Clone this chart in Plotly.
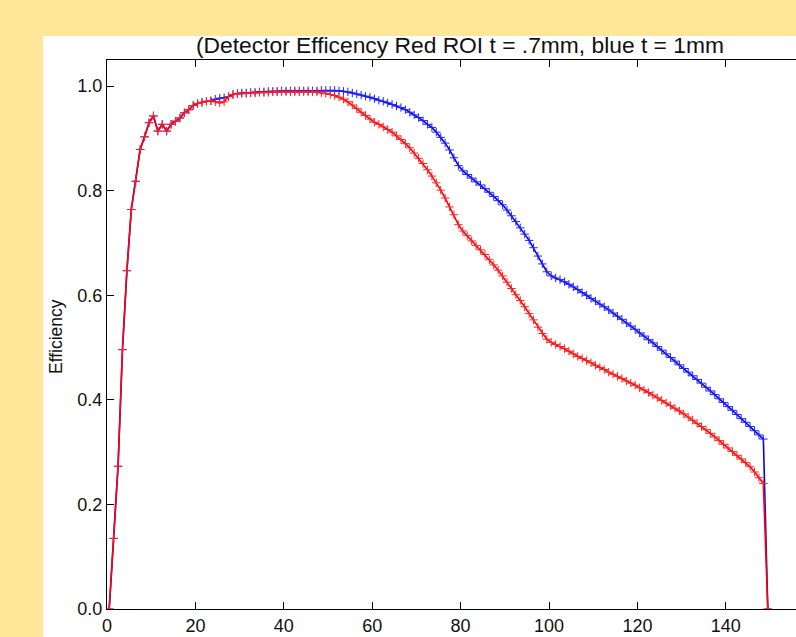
import numpy as np
import plotly.graph_objects as go

title_text = "(Detector Efficency Red ROI t = .7mm, blue t = 1mm"
y_label = "Efficiency"

# efficiency, red ROI (t = .7mm), sampled at x = 0.5, 1.5, ..., 149.5
red_eff = [
    0.0, 0.135, 0.273, 0.496, 0.647, 0.764, 0.818, 0.879, 0.903, 0.930,
    0.943, 0.914, 0.927, 0.914, 0.927, 0.933, 0.939, 0.949, 0.955, 0.963,
    0.967, 0.969, 0.971, 0.972, 0.970, 0.968, 0.970, 0.980, 0.984, 0.985,
    0.986, 0.986, 0.987, 0.987, 0.988, 0.988, 0.988, 0.989, 0.989, 0.989,
    0.989, 0.989, 0.989, 0.989, 0.989, 0.989, 0.989, 0.989,
    0.987, 0.986, 0.984, 0.982, 0.979, 0.975, 0.970, 0.964, 0.957, 0.950,
    0.944, 0.937, 0.931, 0.927, 0.922, 0.917, 0.912, 0.905, 0.898, 0.890,
    0.882, 0.872, 0.862, 0.852, 0.840, 0.828, 0.815, 0.801, 0.786, 0.769,
    0.754, 0.735, 0.723, 0.714, 0.704, 0.695, 0.687, 0.678, 0.668, 0.658,
    0.648, 0.637, 0.625, 0.613, 0.601, 0.590, 0.578, 0.565, 0.553, 0.539,
    0.527, 0.516,
    0.510, 0.506, 0.502, 0.498, 0.493, 0.488, 0.483, 0.479, 0.475, 0.471,
    0.466, 0.462, 0.458, 0.453, 0.449, 0.445, 0.441, 0.436, 0.432, 0.428,
    0.423, 0.419, 0.414, 0.409, 0.404, 0.399, 0.394, 0.389, 0.384, 0.379,
    0.373, 0.367, 0.361, 0.355, 0.349, 0.343, 0.336, 0.329, 0.322, 0.315,
    0.308, 0.301, 0.294, 0.287, 0.280, 0.272, 0.262, 0.251, 0.240,
    0.0,
]

# efficiency, blue (t = 1mm)
blue_eff = [
    0.0, 0.135, 0.273, 0.496, 0.647, 0.764, 0.818, 0.879, 0.903, 0.930,
    0.943, 0.914, 0.927, 0.914, 0.927, 0.933, 0.939, 0.949, 0.955, 0.963,
    0.967, 0.969, 0.971, 0.972, 0.975, 0.977, 0.978, 0.980, 0.984, 0.986,
    0.987, 0.987, 0.988, 0.988, 0.989, 0.989, 0.990, 0.990, 0.990, 0.991,
    0.991, 0.991, 0.991, 0.991, 0.991, 0.991, 0.991, 0.991,
    0.992, 0.992, 0.992, 0.992, 0.991, 0.990, 0.989, 0.987, 0.985, 0.983,
    0.981, 0.979, 0.976, 0.973, 0.971, 0.968, 0.965, 0.962, 0.959, 0.955,
    0.950, 0.945, 0.940, 0.934, 0.927, 0.921, 0.912, 0.902, 0.891, 0.878,
    0.863, 0.848, 0.838, 0.831, 0.824, 0.817, 0.811, 0.804, 0.797, 0.789,
    0.781, 0.773, 0.763, 0.752, 0.741, 0.729, 0.717, 0.705, 0.691, 0.675,
    0.660, 0.645,
    0.637, 0.633, 0.630, 0.626, 0.621, 0.616, 0.611, 0.605, 0.600, 0.594,
    0.589, 0.583, 0.578, 0.572, 0.566, 0.560, 0.554, 0.547, 0.541, 0.535,
    0.528, 0.522, 0.515, 0.509, 0.502, 0.495, 0.488, 0.481, 0.474, 0.467,
    0.460, 0.453, 0.446, 0.439, 0.432, 0.424, 0.417, 0.410, 0.402, 0.395,
    0.387, 0.380, 0.372, 0.364, 0.357, 0.349, 0.341, 0.333, 0.325,
    0.0,
]

x_vals = np.arange(len(red_eff)) + 0.5

x_ticks = [0, 20, 40, 60, 80, 100, 120, 140, 160]
y_ticks = [0.0, 0.2, 0.4, 0.6, 0.8, 1.0]

W, H = 796, 637
ML, MT, MB, MR = 107, 60, 28, 0
pw = W - ML - MR
ph = H - MT - MB
px_per_unit = 4.42
x_max = pw / px_per_unit

FONT = "Liberation Sans, Arial, sans-serif"

fig = go.Figure()
fig.add_trace(go.Scatter(
    x=x_vals, y=blue_eff, mode="lines+markers",
    line=dict(color="#0000ff", width=1.6),
    marker=dict(symbol="cross-thin", size=6, line=dict(color="#2222ff", width=1)),
    showlegend=False,
))
fig.add_trace(go.Scatter(
    x=x_vals, y=red_eff, mode="lines+markers",
    line=dict(color="#ff0000", width=1.6),
    marker=dict(symbol="cross-thin", size=6, line=dict(color="#ff2222", width=1)),
    showlegend=False,
))

fig.update_layout(
    width=W, height=H,
    margin=dict(l=ML, r=MR, t=MT, b=MB, pad=0),
    paper_bgcolor="#FFE699",
    plot_bgcolor="white",
    font=dict(family=FONT, color="#111111"),
    shapes=[dict(type="rect", xref="paper", yref="paper",
                 x0=(43 - ML) / pw, x1=1.2, y0=-0.2, y1=(H - MB - 36) / ph,
                 fillcolor="white", line=dict(width=0), layer="below")],
    annotations=[
        dict(text=title_text, xref="paper", yref="paper",
             x=(460 - ML) / pw, y=(H - MB - 45) / ph,
             xanchor="center", yanchor="middle", showarrow=False,
             font=dict(size=22.8, family=FONT, color="#111111")),
        dict(text=y_label, xref="paper", yref="paper",
             x=(56 - ML) / pw, y=(H - MB - 337) / ph, textangle=-90,
             xanchor="center", yanchor="middle", showarrow=False,
             font=dict(size=17.5, family=FONT, color="#111111")),
    ],
)
fig.update_xaxes(
    range=[0, x_max], tickvals=x_ticks, ticktext=[str(v) for v in x_ticks],
    showgrid=False, zeroline=False, showline=True, linecolor="black", linewidth=1,
    mirror="ticks", ticks="inside", ticklen=7, tickcolor="black", tickwidth=1,
    tickfont=dict(size=18, family=FONT, color="#111111"),
)
fig.update_yaxes(
    range=[0, 1.05], tickvals=y_ticks, ticktext=[f"{v:.1f}" for v in y_ticks],
    showgrid=False, zeroline=False, showline=True, linecolor="black", linewidth=1,
    mirror=False, ticks="inside", ticklen=7, tickcolor="black", tickwidth=1,
    tickfont=dict(size=18, family=FONT, color="#111111"),
)

fig.write_html("out.html")
